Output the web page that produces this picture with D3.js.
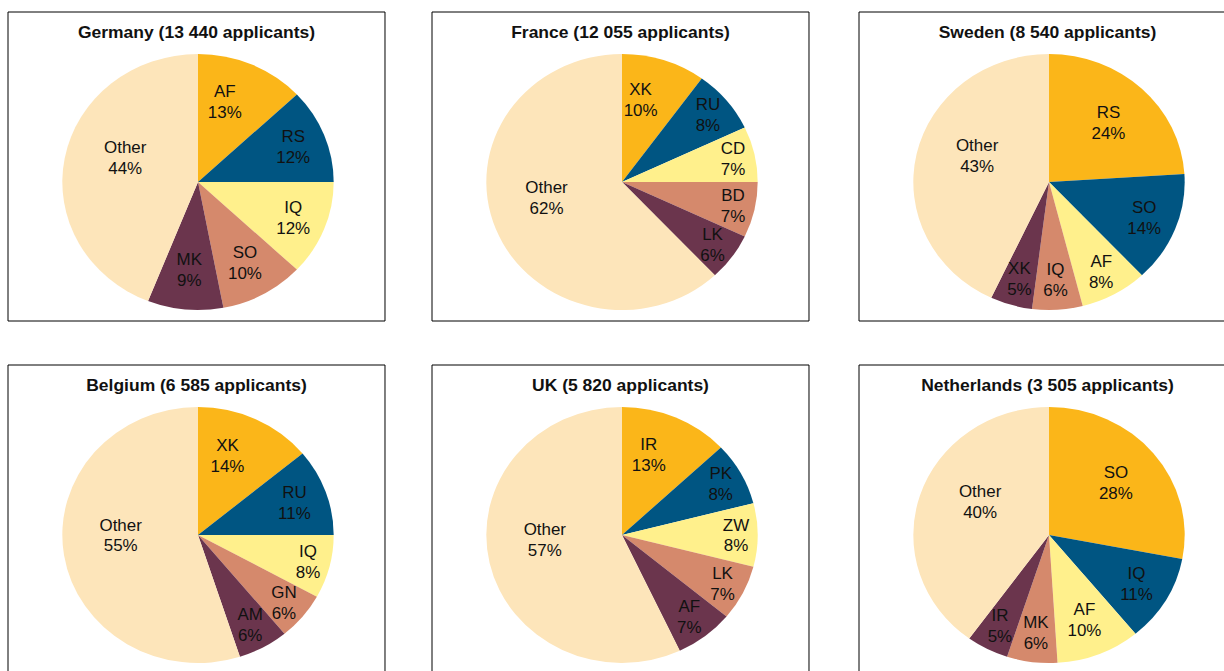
<!DOCTYPE html>
<html>
<head>
<meta charset="utf-8">
<script src="https://cdn.jsdelivr.net/npm/d3@7"></script>
<style>
  html, body { margin: 0; padding: 0; background: #ffffff; }
  svg { display: block; }
  text { font-family: "Liberation Sans", Arial, sans-serif; fill: #111111; }
</style>
</head>
<body>
<svg id="chart" width="1224" height="671"></svg>
<script>
// ---- Data ----
const countries  = ["Germany", "France", "Sweden", "Belgium", "UK", "Netherlands"];
const applicants = ["13 440", "12 055", "8 540", "6 585", "5 820", "3 505"];
const categories = [
  ["AF", "RS", "IQ", "SO", "MK", "Other"],
  ["XK", "RU", "CD", "BD", "LK", "Other"],
  ["RS", "SO", "AF", "IQ", "XK", "Other"],
  ["XK", "RU", "IQ", "GN", "AM", "Other"],
  ["IR", "PK", "ZW", "LK", "AF", "Other"],
  ["SO", "IQ", "AF", "MK", "IR", "Other"]
];
const shares = [
  [13, 12, 12, 10, 9, 44],
  [10, 8, 7, 7, 6, 62],
  [24, 14, 8, 6, 5, 43],
  [14, 11, 8, 6, 6, 55],
  [13, 8, 8, 7, 7, 57],
  [28, 11, 10, 6, 5, 40]
];

// ---- Styles ----
const sliceColors = ["#FBB619", "#005582", "#FFF08C", "#D5896C", "#6B354D", "#FDE5BA"];

// ---- Layout ----
const stretchX = 1.06;            // the reference is slightly wider than tall
const panelW = 377, panelH = 309;
const colX = [8, 432, 859];
const rowY = [12, 365];
const R = 128;
const cx = 190 / stretchX, cy = 170;
const DEG = Math.PI / 180;

const svg = d3.select("#chart");

const pie = d3.pie().sort(null).value(d => d.v);
const arc = d3.arc().innerRadius(0).outerRadius(R);

// Label placement rule approximating the spreadsheet's "best fit" inside labels
function labelPos(d, total) {
  const frac = d.data.v / total;
  let a = (d.startAngle + d.endAngle) / 2;
  let r;
  if (frac >= 0.35) { a += 9 * DEG; r = 0.57; }
  else if (frac >= 0.2) { r = 0.64; }
  else if (d.index === 0) { a -= 6 * DEG; r = 0.66; }
  else {
    const base = frac < 0.09 ? 0.76 : 0.68;
    r = base + 0.08 * Math.abs(Math.sin(a));
  }
  return [r * R * Math.sin(a), -r * R * Math.cos(a)];
}

countries.forEach((c, i) => {
  const col = i % 3, row = Math.floor(i / 3);
  const g = svg.append("g")
    .attr("transform", `translate(${colX[col]},${rowY[row]}) scale(${stretchX},1)`);

  g.append("rect")
    .attr("x", 0).attr("y", 0)
    .attr("width", panelW / stretchX).attr("height", panelH)
    .attr("fill", "#ffffff")
    .attr("stroke", "#000000")
    .attr("stroke-width", 1)
    .attr("vector-effect", "non-scaling-stroke");

  g.append("text")
    .attr("x", panelW / stretchX / 2)
    .attr("y", 26.5)
    .attr("text-anchor", "middle")
    .style("font-weight", "bold")
    .style("font-size", "16.5px")
    .text(`${c} (${applicants[i]} applicants)`);

  const data = categories[i].map((k, j) => ({ k, v: shares[i][j], j }));
  const total = d3.sum(data, d => d.v);
  const arcs = pie(data);

  const pg = g.append("g").attr("transform", `translate(${cx},${cy})`);
  pg.selectAll("path")
    .data(arcs)
    .join("path")
    .attr("d", arc)
    .attr("fill", d => sliceColors[d.data.j]);

  const lg = pg.selectAll("g.lbl")
    .data(arcs)
    .join("g")
    .attr("class", "lbl")
    .attr("transform", d => `translate(${labelPos(d, total)})`);

  lg.append("text")
    .attr("text-anchor", "middle")
    .attr("y", -4.5)
    .style("font-size", "16px")
    .text(d => d.data.k);
  lg.append("text")
    .attr("text-anchor", "middle")
    .attr("y", 16.5)
    .style("font-size", "16px")
    .text(d => d.data.v + "%");
});
</script>
</body>
</html>
